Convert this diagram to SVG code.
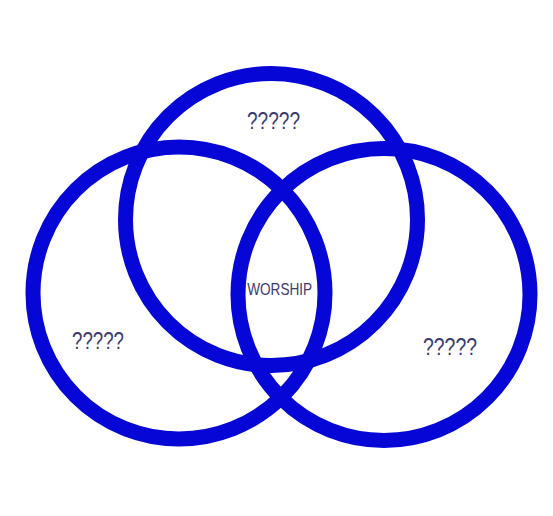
<svg xmlns="http://www.w3.org/2000/svg" width="553" height="516" viewBox="0 0 553 516">
<style>
.ring{fill:none;stroke:#0606d6;stroke-width:15}
.q{font-family:"Liberation Sans",Arial,sans-serif;font-size:24.5px;fill:#3a3a70;text-anchor:middle}
.w{font-family:"Liberation Sans",Arial,sans-serif;font-size:16.5px;fill:#3a3a70;text-anchor:middle}
</style>
<rect width="553" height="516" fill="#ffffff"/>
<g id="top"><circle class="ring" cx="271.5" cy="219.5" r="146"/><text class="q" x="273.5" y="129" textLength="53" lengthAdjust="spacingAndGlyphs">?????</text></g>
<g id="left"><circle class="ring" cx="179" cy="293" r="146"/><text class="q" x="98" y="348.5" textLength="52" lengthAdjust="spacingAndGlyphs">?????</text></g>
<g id="right"><circle class="ring" cx="384" cy="294.5" r="146"/><text class="q" x="450" y="355" textLength="54" lengthAdjust="spacingAndGlyphs">?????</text></g>
<g id="center"><text class="w" x="279.7" y="295" textLength="65" lengthAdjust="spacingAndGlyphs">WORSHIP</text></g>
<g id="connectors"/>
</svg>
